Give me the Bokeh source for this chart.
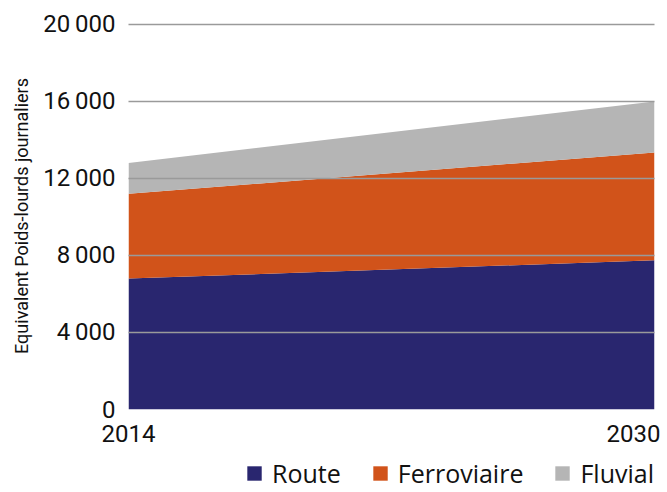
from bokeh.plotting import figure
from bokeh.layouts import column
from bokeh.models import ColumnDataSource, Legend, LegendItem, FixedTicker, CustomJSTickFormatter
from bokeh.embed import file_html
from bokeh.resources import INLINE

years = [2014, 2030]
route = [6800, 7750]
ferroviaire = [4400, 5600]
fluvial = [1600, 2650]
y_ticks = [0, 4000, 8000, 12000, 16000, 20000]
series = ["Route", "Ferroviaire", "Fluvial"]
colors = ["#29266f", "#d1531a", "#b5b5b5"]

src = ColumnDataSource(dict(x=years, Route=route, Ferroviaire=ferroviaire, Fluvial=fluvial))

p = figure(width=660, height=455, output_backend="svg", toolbar_location=None,
           x_range=(2014, 2030), y_range=(0, 20100),
           min_border_left=128, min_border_right=6, min_border_top=22, min_border_bottom=46)

rs = p.varea_stack(stackers=series, x="x", color=colors, source=src)

p.outline_line_color = None
p.xgrid.grid_line_color = None
p.ygrid.grid_line_color = "#9a9a9a"
p.ygrid.grid_line_width = 1.5
p.ygrid.level = "overlay"
p.yaxis.ticker = FixedTicker(ticks=y_ticks)
p.xaxis.ticker = FixedTicker(ticks=years)
p.yaxis.formatter = CustomJSTickFormatter(code="return tick == 0 ? '0' : (Math.floor(tick/1000)) + '\u2009' + '000';")
for ax in (p.xaxis[0], p.yaxis[0]):
    ax.axis_line_color = None
    ax.major_tick_line_color = None
    ax.minor_tick_line_color = None
    ax.major_label_text_font = "Roboto"
    ax.major_label_text_font_size = "24px"
    ax.major_label_text_color = "#111111"
p.yaxis.major_label_standoff = 7
p.xaxis.major_label_standoff = 9
p.yaxis.axis_label = "Equivalent Poids-lourds journaliers"
p.yaxis.axis_label_text_font = "Roboto"
p.yaxis.axis_label_text_font_size = "18px"
p.yaxis.axis_label_text_font_style = "normal"
p.yaxis.axis_label_text_color = "#111111"
p.yaxis.axis_label_standoff = 8

# legend strip below the chart (its stacked areas fall outside its own ranges)
p2 = figure(width=660, height=35, output_backend="svg", toolbar_location=None,
            x_range=(0, 1), y_range=(0, 1),
            min_border_left=0, min_border_right=5, min_border_top=0, min_border_bottom=0)
p2.axis.visible = False
p2.grid.visible = False
p2.outline_line_color = None
lr = p2.varea_stack(stackers=series, x="x", color=colors, source=src)
legend = Legend(items=[LegendItem(label=s, renderers=[r]) for s, r in zip(series, lr)],
                orientation="horizontal", location="bottom_right",
                label_text_font="Open Sans", label_text_font_size="25px",
                label_text_color="#111111",
                glyph_width=18, glyph_height=18, spacing=30, label_standoff=9,
                border_line_color=None, background_fill_alpha=0, padding=0, margin=0)
p2.add_layout(legend, "center")

open("out.html", "w").write(file_html(column(p, p2, spacing=0), INLINE))
